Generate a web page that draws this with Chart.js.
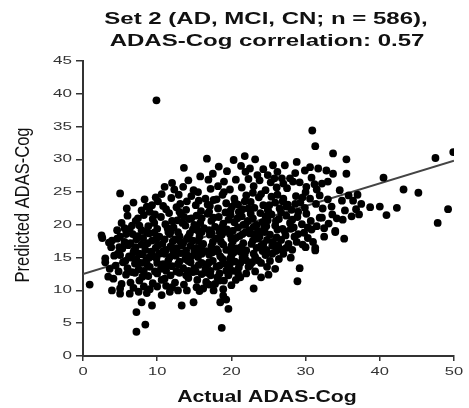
<!DOCTYPE html>
<html>
<head>
<meta charset="utf-8">
<script src="https://cdn.jsdelivr.net/npm/chart.js@4.4.0/dist/chart.umd.min.js"></script>
<style>
  html, body { margin: 0; padding: 0; background: #fff; }
  #chart { display: block; filter: blur(0.5px); }
</style>
</head>
<body>
<canvas id="chart" width="469" height="408"></canvas>
<script>
/* ==================== */
/* Data                 */
/* ==================== */
const titleLines = ['Set 2 (AD, MCI, CN; n = 586),', 'ADAS-Cog correlation: 0.57'];
const xAxisTitle = 'Actual ADAS-Cog';
const yAxisTitle = 'Predicted ADAS-Cog';
const xTicks = [0, 10, 20, 30, 40, 50];
const yTicks = [0, 5, 10, 15, 20, 25, 30, 35, 40, 45];

// regression line (actual -> predicted)
const fitLine = [[0, 12.5], [50, 29.8]];

// [actual, predicted] per subject
const subjects = [
  // upper / outliers
  [9.9, 39.0], [13.6, 28.7], [16.7, 30.1], [20.3, 29.9], [21.8, 30.5], [23.2, 30.0], [25.6, 29.1],
  [27.2, 29.1], [28.8, 29.6], [30.6, 28.8], [31.7, 28.6], [32.8, 28.3], [30.9, 34.4], [31.3, 32.0],
  [33.7, 30.9], [35.5, 30.0], [40.5, 27.2], [47.5, 30.2], [49.9, 31.1], [21.3, 29.0], [22.5, 28.6],
  [19.4, 28.2], [24.3, 28.5], [26.2, 28.1], [29.9, 28.3], [18.3, 28.9],
  // 25 - 28
  [10.6, 24.7], [13.5, 25.8], [14.9, 25.3], [15.5, 25.0], [16.9, 26.9], [12.3, 25.4], [12.0, 26.4],
  [14.2, 26.8], [15.8, 27.4], [17.5, 27.8], [18.2, 25.9], [19.0, 26.6], [19.8, 25.4], [20.6, 26.9],
  [21.4, 25.7], [22.3, 27.0], [23.0, 25.9], [23.8, 26.8], [24.6, 25.3], [25.3, 26.5], [26.1, 25.7],
  [26.8, 27.1], [27.5, 25.6], [28.3, 26.6], [27.9, 27.1], [29.2, 26.5], [30.1, 25.8], [30.8, 27.2],
  [32.2, 26.3], [31.5, 25.4], [33.7, 27.8], [35.5, 27.8], [33.0, 26.6], [17.2, 25.5], [21.9, 28.1],
  [24.9, 27.6], [11.0, 25.8], [5.0, 24.8],
  [23.5, 27.6], [25.8, 27.1], [28.6, 27.9], [27.0, 26.3], [31.2, 26.2],
  // 22 - 25
  [5.9, 22.5], [7.9, 22.2], [9.3, 23.0], [12.6, 22.7], [6.8, 23.4], [8.6, 22.8], [10.1, 23.6],
  [11.2, 22.4], [11.9, 24.1], [13.1, 23.2], [13.9, 22.3], [14.6, 24.4], [15.2, 23.0], [15.9, 22.1],
  [16.5, 24.0], [17.1, 22.9], [17.6, 23.8], [18.2, 22.5], [18.8, 24.6], [19.3, 23.3], [19.9, 22.2],
  [20.4, 24.0], [20.9, 23.1], [21.5, 22.4], [22.0, 24.5], [22.6, 23.5], [23.1, 22.6], [23.7, 24.2],
  [24.3, 23.0], [24.9, 22.3], [25.4, 24.3], [25.9, 23.4], [26.5, 22.5], [27.0, 24.0], [27.6, 23.1],
  [28.1, 22.3], [28.7, 24.4], [29.3, 23.4], [29.9, 22.6], [30.6, 24.0], [31.4, 23.2], [32.3, 22.5],
  [33.0, 23.9], [34.9, 23.7], [36.4, 23.7], [35.3, 22.2], [34.6, 25.3], [35.8, 24.5], [37.0, 24.6],
  [37.5, 23.2], [36.8, 22.4], [9.8, 24.2], [14.0, 23.6], [16.8, 23.1], [21.8, 23.6], [26.2, 24.6],
  [30.0, 25.0], [24.0, 24.7], [19.0, 25.0], [43.2, 25.4], [45.2, 24.9], [38.7, 22.7], [40.0, 22.8],
  [42.3, 22.6], [40.9, 21.5], [49.2, 22.4], [47.8, 20.3],
  [8.3, 23.9], [10.8, 22.9], [12.9, 24.6], [15.6, 23.7], [18.0, 23.9], [20.1, 22.8], [22.9, 24.9],
  [25.1, 23.0], [27.4, 22.8], [29.6, 24.2], [31.9, 24.5], [33.5, 22.8], [20.5, 23.4], [22.3, 22.5],
  [26.9, 23.6], [28.6, 23.2],
  // 19 - 22
  [6.3, 19.4], [7.9, 19.2], [34.2, 21.0], [31.9, 21.1], [34.0, 19.1], [30.8, 19.3], [32.2, 21.1],
  [5.2, 20.3], [6.0, 21.4], [7.1, 20.6], [8.2, 21.5], [8.8, 19.8], [9.4, 20.9], [10.0, 19.4],
  [10.5, 21.2], [11.1, 20.1], [11.6, 21.8], [12.2, 19.6], [12.7, 20.7], [13.2, 21.6], [13.8, 19.9],
  [14.3, 20.9], [14.8, 19.3], [15.3, 21.4], [15.8, 20.3], [16.3, 19.5], [16.8, 21.7], [17.3, 20.6],
  [17.8, 19.7], [18.3, 21.2], [18.9, 20.2], [19.4, 19.3], [19.9, 21.5], [20.4, 20.4], [20.9, 19.6],
  [21.4, 21.3], [21.9, 20.1], [22.4, 19.2], [22.9, 21.0], [23.4, 20.0], [23.9, 21.8], [24.4, 19.5],
  [24.9, 20.7], [25.4, 21.6], [25.9, 19.9], [26.4, 20.9], [26.9, 19.4], [27.4, 21.4], [27.9, 20.3],
  [28.4, 19.6], [28.9, 21.2], [29.5, 20.1], [30.1, 21.7], [30.7, 20.6], [31.5, 19.8], [33.1, 20.2],
  [35.0, 20.8], [36.2, 21.3], [9.0, 22.0], [13.0, 22.0], [17.0, 22.0], [21.0, 22.0], [25.0, 22.0],
  [29.0, 22.0], [11.8, 19.0], [15.6, 19.0], [19.6, 20.8], [23.6, 19.0], [27.2, 19.0], [6.6, 19.9],
  [4.6, 19.2], [37.2, 21.6], [33.6, 21.6], [14.6, 21.0], [22.2, 20.6], [26.7, 21.9], [18.4, 19.0],
  [7.4, 21.0], [9.7, 21.6], [12.0, 20.6], [13.6, 21.2], [15.0, 20.0], [16.0, 21.0], [17.6, 21.1],
  [19.2, 21.9], [20.8, 21.0], [22.6, 21.7], [24.2, 20.4], [26.0, 20.6], [28.2, 20.8], [30.3, 19.6],
  [32.5, 19.5], [5.6, 19.5], [7.6, 19.9], [9.6, 20.3], [11.4, 19.5], [13.4, 20.3], [15.3, 19.8],
  [17.0, 19.2], [18.7, 19.6], [20.2, 19.1], [21.6, 20.0], [23.0, 19.7], [24.7, 19.8], [26.2, 19.3],
  [28.0, 19.4], [29.8, 18.8], [24.6, 21.3],
  // 16 - 19
  [26.3, 16.9], [27.7, 17.1], [28.8, 17.4], [31.3, 16.5], [31.3, 16.1],
  [2.6, 18.0], [3.5, 17.3], [3.8, 16.6], [4.6, 17.9], [5.3, 16.4], [5.8, 18.6], [6.4, 17.2],
  [6.9, 16.1], [7.4, 18.3], [7.9, 17.0], [8.4, 16.2], [8.9, 18.7], [9.3, 17.6], [9.8, 16.5],
  [10.3, 18.2], [10.7, 17.1], [11.2, 16.2], [11.7, 18.6], [12.1, 17.5], [12.6, 16.4], [13.0, 18.3],
  [13.5, 17.2], [13.9, 16.1], [14.4, 18.7], [14.8, 17.6], [15.3, 16.5], [15.7, 18.2], [16.2, 17.1],
  [16.6, 16.0], [17.1, 18.5], [17.5, 17.4], [18.0, 16.3], [18.4, 18.1], [18.9, 17.0], [19.3, 16.2],
  [19.8, 18.6], [20.2, 17.5], [20.7, 16.4], [21.1, 18.3], [21.6, 17.2], [22.0, 16.1], [22.5, 18.7],
  [22.9, 17.6], [23.4, 16.5], [23.8, 18.2], [24.3, 17.1], [24.7, 16.2], [25.2, 18.5], [25.6, 17.4],
  [26.1, 18.1], [26.6, 16.3], [27.3, 18.4], [28.2, 16.2], [29.0, 18.6], [29.6, 17.0], [30.3, 18.0],
  [31.0, 17.4], [32.5, 18.2], [34.0, 18.9], [35.2, 17.9], [6.1, 16.9], [8.6, 18.9], [11.5, 18.9],
  [13.3, 16.9], [16.0, 18.9], [19.0, 18.9], [21.9, 18.9], [24.5, 18.9], [9.9, 17.9], [14.0, 17.9],
  [17.9, 17.9], [20.6, 18.0], [23.6, 17.9], [12.4, 17.8], [7.2, 17.8], [4.9, 16.6], [10.8, 16.0],
  [15.0, 16.0], [19.9, 16.0], [26.0, 16.0], [2.5, 18.4], [3.9, 17.6],
  [5.0, 18.2], [6.7, 18.6], [8.1, 18.0], [9.6, 18.8], [11.0, 17.8], [12.8, 18.9], [14.2, 18.2],
  [15.5, 17.6], [17.3, 18.8], [18.7, 18.5], [20.0, 17.9], [21.5, 18.6], [23.1, 18.6], [24.8, 17.7],
  [26.7, 17.7], [28.5, 18.2], [30.0, 16.6], [5.6, 17.4], [7.1, 16.6], [8.7, 17.2], [10.1, 16.9],
  [11.8, 16.7], [13.0, 17.6], [14.5, 16.8], [15.9, 16.6], [17.3, 16.7], [18.6, 17.4], [20.0, 16.8],
  [21.3, 16.6], [22.7, 17.1], [24.0, 16.8], [25.5, 16.8], [27.4, 16.5],
  // 13 - 16
  [3.0, 14.9], [3.0, 14.3], [3.6, 13.3], [5.0, 15.4], [5.4, 14.3], [22.3, 13.6], [25.9, 13.3],
  [29.2, 13.4], [23.0, 15.6], [23.2, 15.1], [27.0, 15.6], [22.5, 13.8],
  [6.0, 13.4], [6.5, 15.0], [7.0, 14.1], [7.5, 13.2], [8.0, 15.5], [8.5, 14.6], [9.0, 13.6],
  [9.5, 15.2], [10.0, 14.2], [10.5, 13.3], [11.0, 15.6], [11.5, 14.6], [12.0, 13.7], [12.5, 15.3],
  [13.0, 14.4], [13.5, 13.4], [14.0, 15.4], [14.5, 14.3], [15.0, 13.4], [15.5, 15.1], [16.0, 14.2],
  [16.5, 13.3], [17.0, 15.5], [17.5, 14.5], [18.0, 13.6], [18.5, 15.2], [19.0, 14.1], [19.5, 13.2],
  [20.0, 15.3], [20.5, 14.4], [21.0, 13.5], [21.5, 15.0], [22.0, 14.6], [24.0, 14.2], [24.6, 15.4],
  [25.2, 14.5], [26.4, 14.8], [28.0, 15.0], [6.8, 15.8], [9.2, 15.9], [12.2, 15.9], [15.2, 15.9],
  [18.2, 15.9], [21.2, 15.9], [24.2, 16.0], [8.2, 13.0], [11.2, 13.0], [14.2, 13.0], [17.2, 13.0],
  [20.2, 13.0], [13.8, 14.8], [16.8, 14.0], [19.8, 14.8], [10.8, 14.0], [7.8, 14.2], [4.4, 13.8],
  [4.2, 15.3],
  [4.7, 15.6], [6.2, 15.2], [7.6, 15.6], [8.9, 15.0], [10.3, 15.6], [11.7, 15.1], [13.2, 15.7],
  [14.6, 15.2], [16.0, 15.6], [17.4, 15.8], [18.8, 14.8], [20.3, 15.8], [21.8, 15.4], [23.6, 14.6],
  [25.5, 15.6], [5.7, 14.5], [7.2, 14.7], [8.6, 14.0], [9.9, 14.9], [11.4, 13.9], [12.8, 14.0],
  [14.2, 14.5], [15.6, 13.9], [17.0, 14.3], [18.4, 13.8], [19.8, 14.0], [21.2, 14.2], [22.8, 14.3],
  [24.8, 13.6],
  // 10 - 13
  [0.9, 10.9], [3.4, 12.1], [4.1, 11.8], [3.9, 10.0], [5.0, 9.5], [6.3, 9.5], [7.5, 9.8],
  [10.6, 9.3], [11.7, 9.8], [15.3, 10.5], [16.2, 10.3], [17.6, 10.0], [20.0, 10.8], [21.2, 12.0],
  [23.0, 10.3], [28.9, 11.4],
  [5.8, 12.4], [6.4, 11.2], [7.0, 12.7], [7.6, 11.5], [8.2, 10.6], [8.8, 12.2], [9.4, 11.1],
  [10.0, 12.6], [10.6, 11.6], [11.2, 10.7], [11.8, 12.3], [12.4, 11.2], [13.0, 12.7], [13.6, 10.9],
  [14.2, 11.9], [14.8, 12.8], [15.4, 11.6], [16.0, 12.5], [16.6, 11.3], [17.2, 12.3], [17.8, 11.0],
  [18.4, 12.6], [19.0, 11.5], [19.6, 12.3], [20.6, 11.6], [22.0, 12.6], [24.0, 12.0], [25.0, 12.4],
  [9.0, 10.2], [12.8, 10.0], [18.9, 10.2], [5.2, 11.0],
  [4.8, 12.9], [6.6, 12.8], [8.0, 12.1], [9.7, 12.9], [11.0, 11.8], [12.6, 12.9], [13.9, 12.3],
  [15.2, 12.9], [16.8, 12.7], [18.1, 12.0], [19.3, 13.0], [20.9, 12.6], [23.2, 12.9],
  [5.0, 10.3], [6.8, 10.4], [8.6, 9.6], [10.0, 10.6], [12.0, 10.5], [14.0, 10.0], [15.7, 9.9],
  [17.0, 10.9], [18.4, 11.5],
  // below 10
  [7.9, 8.2], [9.3, 7.7], [7.2, 6.7], [8.4, 4.8], [7.2, 3.7], [13.3, 7.7], [14.9, 8.2],
  [18.7, 4.3], [19.6, 7.2], [18.5, 8.2], [18.9, 9.2], [19.3, 8.6]
];

/* ==================== */
/* Text drawing         */
/* ==================== */
const FONT = '"Liberation Sans", Arial, sans-serif';

// the reference lettering is wide, so text is drawn with a horizontal stretch
function stretchedText(ctx, text, x, y, opts) {
  ctx.save();
  ctx.translate(x, y);
  if (opts.rotate) ctx.rotate(opts.rotate);
  ctx.scale(opts.sx || 1, opts.sy || 1);
  ctx.font = opts.font;
  ctx.fillStyle = opts.color || '#111';
  ctx.textAlign = opts.align || 'center';
  ctx.textBaseline = opts.baseline || 'alphabetic';
  ctx.fillText(text, 0, 0);
  ctx.restore();
}

const textPlugin = {
  id: 'stretchedText',
  afterDraw(chart) {
    const ctx = chart.ctx;
    const xScale = chart.scales.x;
    const yScale = chart.scales.y;

    // title
    stretchedText(ctx, titleLines[0], 266, 24, { font: 'bold 16px ' + FONT, sx: 1.5 });
    stretchedText(ctx, titleLines[1], 267, 46, { font: 'bold 16px ' + FONT, sx: 1.5 });

    // tick labels
    xTicks.forEach(v => {
      stretchedText(ctx, String(v), xScale.getPixelForValue(v), 375,
        { font: '11px ' + FONT, sx: 1.5, color: '#333' });
    });
    yTicks.forEach(v => {
      stretchedText(ctx, String(v), 72, yScale.getPixelForValue(v),
        { font: '11px ' + FONT, sx: 1.55, color: '#333', align: 'right', baseline: 'middle' });
    });

    // axis titles
    stretchedText(ctx, xAxisTitle, 267, 402, { font: 'bold 16px ' + FONT, sx: 1.33 });
    stretchedText(ctx, yAxisTitle, 29, 205,
      { font: '16.5px ' + FONT, rotate: -Math.PI / 2, sy: 1.2 });
  }
};

/* ==================== */
/* Chart                */
/* ==================== */
const axisColor = '#333';

new Chart(document.getElementById('chart'), {
  type: 'scatter',
  data: {
    datasets: [
      {
        data: subjects.map(p => ({ x: p[0], y: p[1] })),
        backgroundColor: '#000',
        borderWidth: 0,
        pointRadius: 3.9,
        pointHoverRadius: 3.9
      },
      {
        type: 'line',
        data: fitLine.map(p => ({ x: p[0], y: p[1] })),
        borderColor: '#444',
        borderWidth: 2,
        pointRadius: 0,
        fill: false
      }
    ]
  },
  options: {
    responsive: false,
    animation: false,
    devicePixelRatio: 1,
    layout: { padding: { top: 61, right: 15, left: 0, bottom: 0 } },
    plugins: {
      legend: { display: false },
      title: { display: false },
      tooltip: { enabled: false }
    },
    scales: {
      x: {
        type: 'linear',
        min: 0,
        max: 50,
        ticks: { stepSize: 10, display: false },
        grid: { drawOnChartArea: false, drawTicks: true, tickLength: 5, color: axisColor, lineWidth: 1.5 },
        border: { display: true, color: axisColor, width: 2 },
        afterFit: s => { s.height = 52; }
      },
      y: {
        type: 'linear',
        min: 0,
        max: 45,
        ticks: { stepSize: 5, display: false },
        grid: { drawOnChartArea: false, drawTicks: true, tickLength: 7, color: axisColor, lineWidth: 1.5 },
        border: { display: true, color: axisColor, width: 2 },
        afterFit: s => { s.width = 83; }
      }
    }
  },
  plugins: [textPlugin]
});
</script>
</body>
</html>
